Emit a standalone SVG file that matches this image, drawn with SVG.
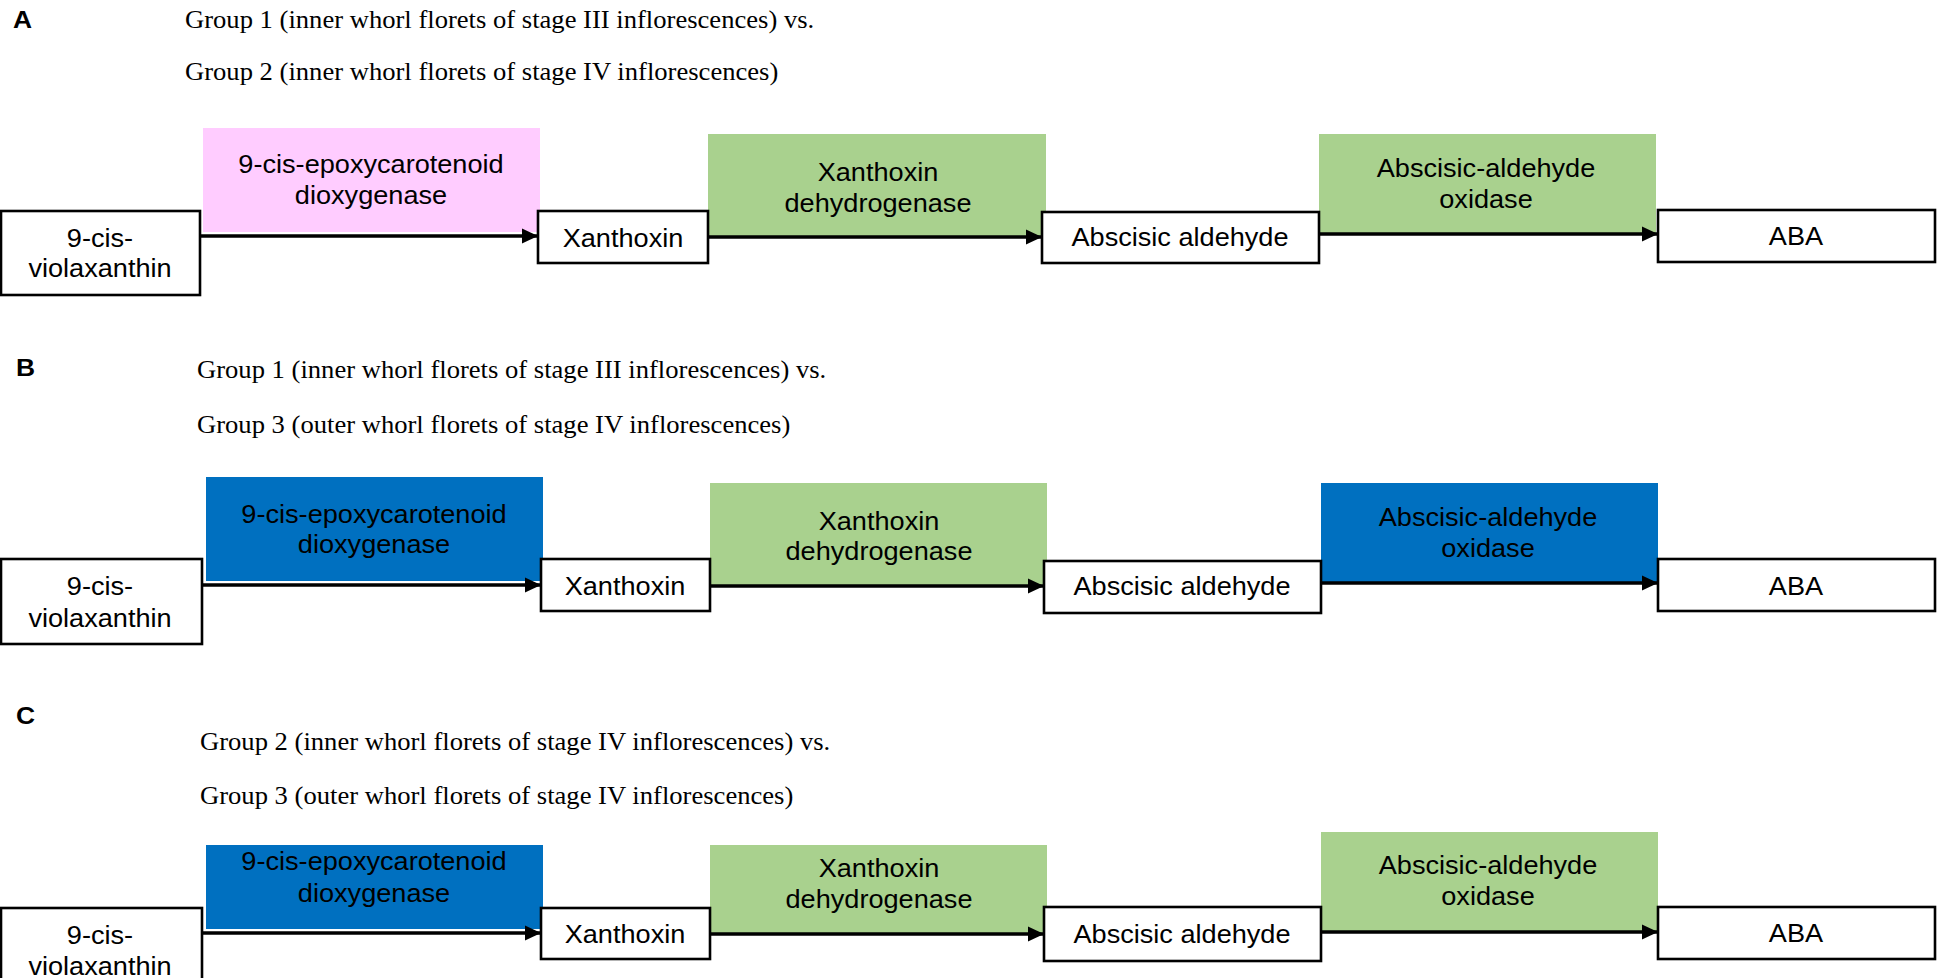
<svg xmlns="http://www.w3.org/2000/svg" width="1945" height="978" viewBox="0 0 1945 978">
<style>
.lbl{font-family:"Liberation Sans",Arial,sans-serif;font-weight:bold;font-size:24px;fill:#000}
.ttl{font-family:"Liberation Serif","Times New Roman",serif;font-size:24.3px;fill:#000}
.t{font-family:"Liberation Sans",Arial,sans-serif;font-size:25px;fill:#000;text-anchor:middle}
.box{fill:#fff;stroke:#000;stroke-width:2.6}
.pink{fill:#FFCCFF}
.green{fill:#A9D18E}
.blue{fill:#0070C0}
.arr{stroke:#000;stroke-width:3.4;fill:none;marker-end:url(#ah)}
</style>
<defs>
<marker id="ah" markerUnits="userSpaceOnUse" markerWidth="16" markerHeight="16" refX="16" refY="8" orient="auto">
<path d="M0,0.5 L16,8 L0,15.5 z" fill="#000"/>
</marker>
</defs>
<rect width="1945" height="978" fill="#fff"/>

<!-- Panel A -->
<g id="panelA-labels">
<text class="lbl" transform="translate(13 28) scale(1.1 1)">A</text>
<text class="ttl" transform="translate(185 28) scale(1.095 1)">Group 1 (inner whorl florets of stage III inflorescences) vs.</text>
<text class="ttl" transform="translate(185 80) scale(1.095 1)">Group 2 (inner whorl florets of stage IV inflorescences)</text>
</g>
<g id="A-nced"><rect class="pink" x="203" y="128" width="337" height="104"/>
<text class="t" transform="translate(371 173) scale(1.085 1)">9-cis-epoxycarotenoid</text>
<text class="t" transform="translate(371 204) scale(1.085 1)">dioxygenase</text></g>
<g id="A-xd"><rect class="green" x="708" y="134" width="338" height="104"/>
<text class="t" transform="translate(878 181) scale(1.085 1)">Xanthoxin</text>
<text class="t" transform="translate(878 212) scale(1.085 1)">dehydrogenase</text></g>
<g id="A-aao"><rect class="green" x="1319" y="134" width="337" height="99"/>
<text class="t" transform="translate(1486 177) scale(1.085 1)">Abscisic-aldehyde</text>
<text class="t" transform="translate(1486 208) scale(1.085 1)">oxidase</text></g>
<g id="A-connectors">
<line class="arr" x1="200" y1="236" x2="538" y2="236"/>
<line class="arr" x1="708" y1="237" x2="1042" y2="237"/>
<line class="arr" x1="1319" y1="234" x2="1658" y2="234"/>
</g>
<g id="A-viol"><rect class="box" x="1" y="211" width="199" height="84"/>
<text class="t" transform="translate(100 247) scale(1.085 1)">9-cis-</text>
<text class="t" transform="translate(100 277) scale(1.085 1)">violaxanthin</text></g>
<g id="A-xan"><rect class="box" x="538" y="211" width="170" height="52"/>
<text class="t" transform="translate(623 247) scale(1.085 1)">Xanthoxin</text></g>
<g id="A-abal"><rect class="box" x="1042" y="212" width="277" height="51"/>
<text class="t" transform="translate(1180 246) scale(1.085 1)">Abscisic aldehyde</text></g>
<g id="A-aba"><rect class="box" x="1658" y="210" width="277" height="52"/>
<text class="t" transform="translate(1796 245) scale(1.085 1)">ABA</text></g>

<!-- Panel B -->
<g id="panelB-labels">
<text class="lbl" transform="translate(16 376) scale(1.1 1)">B</text>
<text class="ttl" transform="translate(197 378) scale(1.095 1)">Group 1 (inner whorl florets of stage III inflorescences) vs.</text>
<text class="ttl" transform="translate(197 433) scale(1.095 1)">Group 3 (outer whorl florets of stage IV inflorescences)</text>
</g>
<g id="B-nced"><rect class="blue" x="206" y="477" width="337" height="104"/>
<text class="t" transform="translate(374 523) scale(1.085 1)">9-cis-epoxycarotenoid</text>
<text class="t" transform="translate(374 553) scale(1.085 1)">dioxygenase</text></g>
<g id="B-xd"><rect class="green" x="710" y="483" width="337" height="104"/>
<text class="t" transform="translate(879 530) scale(1.085 1)">Xanthoxin</text>
<text class="t" transform="translate(879 560) scale(1.085 1)">dehydrogenase</text></g>
<g id="B-aao"><rect class="blue" x="1321" y="483" width="337" height="99"/>
<text class="t" transform="translate(1488 526) scale(1.085 1)">Abscisic-aldehyde</text>
<text class="t" transform="translate(1488 557) scale(1.085 1)">oxidase</text></g>
<g id="B-connectors">
<line class="arr" x1="202" y1="585" x2="541" y2="585"/>
<line class="arr" x1="710" y1="586" x2="1044" y2="586"/>
<line class="arr" x1="1321" y1="583" x2="1658" y2="583"/>
</g>
<g id="B-viol"><rect class="box" x="1" y="559" width="201" height="85"/>
<text class="t" transform="translate(100 595) scale(1.085 1)">9-cis-</text>
<text class="t" transform="translate(100 627) scale(1.085 1)">violaxanthin</text></g>
<g id="B-xan"><rect class="box" x="541" y="559" width="169" height="52"/>
<text class="t" transform="translate(625 595) scale(1.085 1)">Xanthoxin</text></g>
<g id="B-abal"><rect class="box" x="1044" y="561" width="277" height="52"/>
<text class="t" transform="translate(1182 595) scale(1.085 1)">Abscisic aldehyde</text></g>
<g id="B-aba"><rect class="box" x="1658" y="559" width="277" height="52"/>
<text class="t" transform="translate(1796 595) scale(1.085 1)">ABA</text></g>

<!-- Panel C -->
<g id="panelC-labels">
<text class="lbl" transform="translate(16 724) scale(1.1 1)">C</text>
<text class="ttl" transform="translate(200 750) scale(1.095 1)">Group 2 (inner whorl florets of stage IV inflorescences) vs.</text>
<text class="ttl" transform="translate(200 804) scale(1.095 1)">Group 3 (outer whorl florets of stage IV inflorescences)</text>
</g>
<g id="C-nced"><rect class="blue" x="206" y="845" width="337" height="84"/>
<text class="t" transform="translate(374 870) scale(1.085 1)">9-cis-epoxycarotenoid</text>
<text class="t" transform="translate(374 902) scale(1.085 1)">dioxygenase</text></g>
<g id="C-xd"><rect class="green" x="710" y="845" width="337" height="88"/>
<text class="t" transform="translate(879 877) scale(1.085 1)">Xanthoxin</text>
<text class="t" transform="translate(879 908) scale(1.085 1)">dehydrogenase</text></g>
<g id="C-aao"><rect class="green" x="1321" y="832" width="337" height="99"/>
<text class="t" transform="translate(1488 874) scale(1.085 1)">Abscisic-aldehyde</text>
<text class="t" transform="translate(1488 905) scale(1.085 1)">oxidase</text></g>
<g id="C-connectors">
<line class="arr" x1="202" y1="933" x2="541" y2="933"/>
<line class="arr" x1="710" y1="934" x2="1044" y2="934"/>
<line class="arr" x1="1321" y1="932" x2="1658" y2="932"/>
</g>
<g id="C-viol"><rect class="box" x="1" y="908" width="201" height="85"/>
<text class="t" transform="translate(100 944) scale(1.085 1)">9-cis-</text>
<text class="t" transform="translate(100 975) scale(1.085 1)">violaxanthin</text></g>
<g id="C-xan"><rect class="box" x="541" y="908" width="169" height="51"/>
<text class="t" transform="translate(625 943) scale(1.085 1)">Xanthoxin</text></g>
<g id="C-abal"><rect class="box" x="1044" y="907" width="277" height="54"/>
<text class="t" transform="translate(1182 943) scale(1.085 1)">Abscisic aldehyde</text></g>
<g id="C-aba"><rect class="box" x="1658" y="907" width="277" height="52"/>
<text class="t" transform="translate(1796 942) scale(1.085 1)">ABA</text></g>
</svg>
